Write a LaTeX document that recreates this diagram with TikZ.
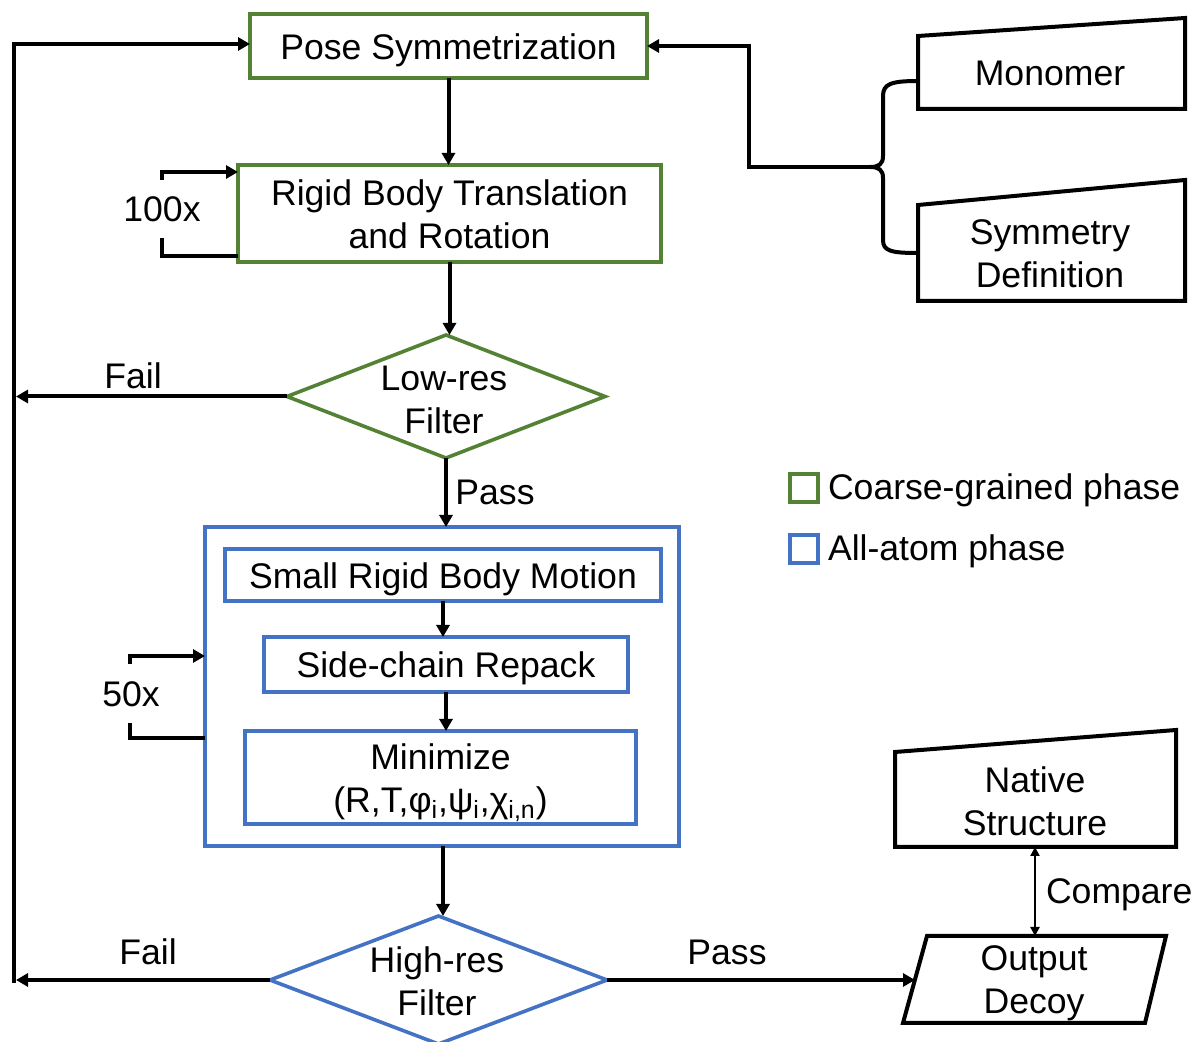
\documentclass[tikz,border=0pt]{standalone}
\usepackage{fontspec}
\setmainfont{Liberation Sans}
\usetikzlibrary{arrows.meta,shapes.geometric}
\definecolor{cgreen}{HTML}{548235}
\definecolor{cblue}{HTML}{4472C4}

\begin{document}
\begin{tikzpicture}[x=0.5pt,y=-0.5pt,
  every node/.style={font=\fontsize{17.8}{21.5}\selectfont, inner sep=0pt, outer sep=0pt},
  ln/.style={line width=2pt},
  arr/.style={line width=2pt, -{Triangle[length=6pt,width=6.5pt]}},
  dblarr/.style={line width=1.1pt, {Triangle[length=4.5pt,width=4.5pt]}-{Triangle[length=4.5pt,width=4.5pt]}},
  gbox/.style={draw=cgreen, line width=1.8pt, rectangle, align=center},
  bbox/.style={draw=cblue, line width=1.8pt, rectangle, align=center},
  gdia/.style={draw=cgreen, line width=1.8pt, diamond},
  bdia/.style={draw=cblue, line width=1.8pt, diamond},
  io/.style={draw=black, line width=2pt, line join=miter},
  tag/.style={fill=white},
  txt/.style={align=center}]

\useasboundingbox (0,0) rectangle (1196,1042);

% ---------- coarse-grained phase ----------
\node[gbox, minimum width=198.5pt, minimum height=32pt,
  label={[txt,yshift=-2pt]center:{Pose Symmetrization}}] (pose) at (448.5,46) {};
\node[gbox, minimum width=211.5pt, minimum height=48.5pt,
  label={[txt,yshift=-0.5pt]center:{Rigid Body Translation\\and Rotation}}] (rigid) at (449.5,213.5) {};
\node[gdia, minimum width=159pt, minimum height=61.5pt] (lr) at (446,396.5) {};
\node[txt] (lrtxt) at (444,400) {Low-res\\Filter};

% ---------- all-atom phase ----------
\node[bbox, minimum width=237pt, minimum height=159.5pt] (outer) at (442,686.5) {};
\node[bbox, minimum width=218pt, minimum height=26pt,
  label={[txt,yshift=-2.3pt]center:{Small Rigid Body Motion}}] (small) at (443,575) {};
\node[bbox, minimum width=182pt, minimum height=27.5pt,
  label={[txt,yshift=-2pt]center:{Side-chain Repack}}] (side) at (446,664.5) {};
\node[bbox, minimum width=195.5pt, minimum height=46.5pt,
  label={[txt,yshift=-2.5pt]center:{Minimize\\(R,T,φ\textsubscript{i},ψ\textsubscript{i},χ\textsubscript{i,n})}}] (mini) at (440.5,777.5) {};
\node[bdia, minimum width=168.5pt, minimum height=64pt] (hr) at (438.5,980) {};
\node[txt] (hrtxt) at (437,981) {High-res\\Filter};

% ---------- inputs and output ----------
\draw[io] (918,36) -- (1185,18) -- (1185,109) -- (918,109) -- cycle;
\node (mono) at (1050,73) {Monomer};
\draw[io] (918,205) -- (1185,180) -- (1185,301) -- (918,301) -- cycle;
\node[txt] (symdef) at (1050,254) {Symmetry\\Definition};
\draw[io] (895,752) -- (1176,730) -- (1176,847) -- (895,847) -- cycle;
\node[txt] (native) at (1035,801) {Native\\Structure};
\draw[io] (927,936) -- (1166,936) -- (1145,1023) -- (903,1023) -- cycle;
\node[txt] (decoy) at (1034,983) {Output\\Decoy};

\coordinate (monoin) at (918,81);
\coordinate (symin) at (918,253);
\coordinate (tip) at (870,167);
\coordinate (jn) at (749,0);
\coordinate (rail) at (14,0);
\coordinate (railend) at (16,0);
\coordinate (natS) at (1035,847);
\coordinate (decN) at (1035,936);
\coordinate (decW) at (915,980);

% curly brace joining the two inputs
\draw[ln] (monoin) .. controls (891,81) and (883,84) .. (883,96) -- (883,156)
  .. controls (883,164) and (879,167) .. (tip)
  .. controls (879,167) and (883,170) .. (883,178) -- (883,240)
  .. controls (883,251) and (891,253) .. (symin);
\draw[arr] (tip) -- (tip -| jn) |- (pose.east);

% ---------- main flow ----------
\draw[arr] (pose.south) -- (pose.south |- rigid.north);
\draw[arr] (rigid.south) -- (rigid.south |- lr.north);
\draw[arr] (lr.south) -- (lr.south |- outer.north);
\draw[arr] (small.south) -- (small.south |- side.north);
\draw[arr] (side.south) -- (side.south |- mini.north);
\draw[arr] (outer.south -| 443,0) -- (hr.north -| 443,0);
\draw[arr] (hr.east) -- (decW);
\draw[dblarr] (natS) -- (decN);

% fail branches back to the start
\draw[arr] (lr.west) -- (lr.west -| railend);
\draw[arr] (hr.west) -- (hr.west -| railend);
\draw[arr] (rail |- 0,983) -- (rail |- 0,44) -- (pose.west |- 0,44);

% ---------- repeat loops ----------
\coordinate (l100) at (162,0);
\coordinate (r1) at ([yshift=3pt]rigid.south west);
\coordinate (r2) at ([yshift=-3.5pt]rigid.north west);
\draw[arr] (r1) -- (r1 -| l100) -- (r2 -| l100) -- (r2);
\node[tag, minimum width=53pt, minimum height=29pt] (n100) at (162,209) {100x};

\coordinate (l50) at (130,0);
\coordinate (o1) at (205,738);
\coordinate (o2) at (205,656);
\draw[arr] (o1) -- (o1 -| l50) -- (o2 -| l50) -- (o2);
\node[tag, minimum width=44pt, minimum height=29.5pt] (n50) at (131,694) {50x};

% ---------- edge labels ----------
\node (fail1) at (133,376) {Fail};
\node (pass1) at (495,492) {Pass};
\node (fail2) at (148,952) {Fail};
\node (pass2) at (727,952) {Pass};
\node[anchor=west] (cmp) at (1046,895) {Compare};

% ---------- legend ----------
\node[draw=cgreen, line width=1.8pt, minimum size=14pt] (lg1) at (804,488) {};
\node[anchor=west] (lg1t) at (828,490.5) {Coarse-grained phase};
\node[draw=cblue, line width=1.8pt, minimum size=14pt] (lg2) at (804,549) {};
\node[anchor=west] (lg2t) at (828,551.5) {All-atom phase};
\end{tikzpicture}
\end{document}
